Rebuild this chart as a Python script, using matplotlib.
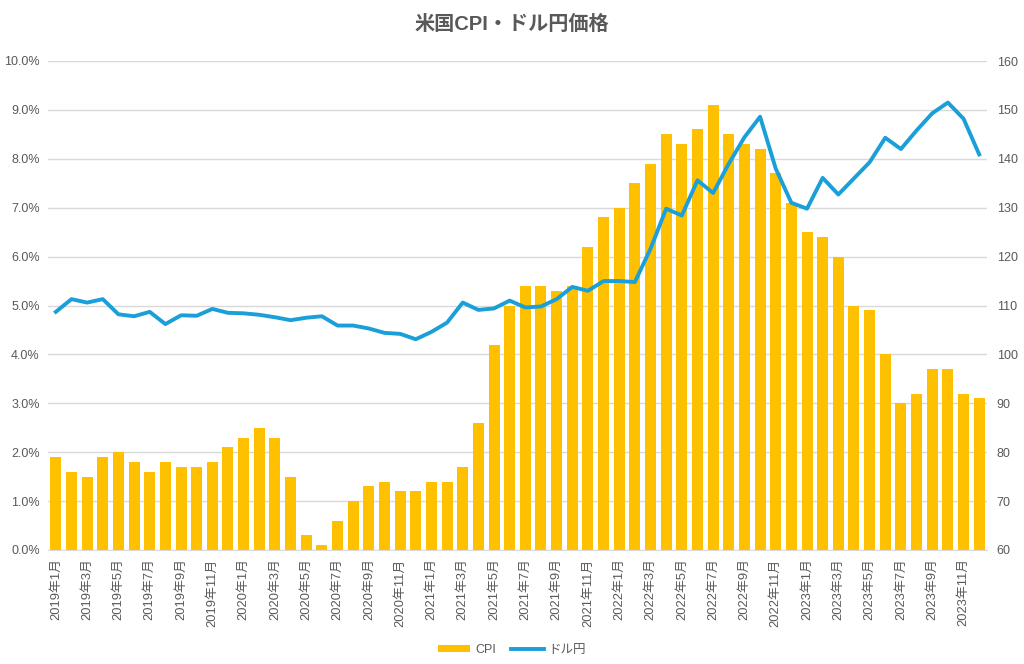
import matplotlib.pyplot as plt
import matplotlib.ticker as mticker
import numpy as np

plt.rcParams['font.family'] = ['Liberation Sans', 'Noto Sans CJK JP', 'DejaVu Sans']

months = [f"{y}年{m}月" for y in range(2019, 2024) for m in range(1, 13)]

cpi = [1.9, 1.6, 1.5, 1.9, 2.0, 1.8, 1.6, 1.8, 1.7, 1.7, 1.8, 2.1,
       2.3, 2.5, 2.3, 1.5, 0.3, 0.1, 0.6, 1.0, 1.3, 1.4, 1.2, 1.2,
       1.4, 1.4, 1.7, 2.6, 4.2, 5.0, 5.4, 5.4, 5.3, 5.4, 6.2, 6.8,
       7.0, 7.5, 7.9, 8.5, 8.3, 8.6, 9.1, 8.5, 8.3, 8.2, 7.7, 7.1,
       6.5, 6.4, 6.0, 5.0, 4.9, 4.0, 3.0, 3.2, 3.7, 3.7, 3.2, 3.1]

usdjpy = [108.7, 111.3, 110.6, 111.3, 108.2, 107.8, 108.7, 106.2, 108.0, 107.9, 109.3, 108.5,
          108.4, 108.1, 107.6, 107.0, 107.5, 107.8, 105.9, 105.9, 105.3, 104.4, 104.2, 103.1,
          104.6, 106.5, 110.6, 109.1, 109.4, 111.0, 109.6, 109.8, 111.3, 113.8, 113.0, 115.0,
          115.0, 114.8, 121.6, 129.8, 128.4, 135.6, 133.0, 139.0, 144.4, 148.6, 138.0, 131.0,
          129.8, 136.1, 132.7, 136.0, 139.3, 144.3, 142.0, 145.8, 149.3, 151.5, 148.2, 140.9]

text_c = "#595959"
x = np.arange(len(months))

fig = plt.figure(figsize=(10.24, 6.64), dpi=100)
ax1 = fig.add_axes([48/1024, 1-550/664, 939/1024, 489/664])
ax2 = ax1.twinx()

bars = ax1.bar(x, cpi, width=0.7, color="#FFC000", label="CPI", zorder=2)
line, = ax2.plot(x, usdjpy, color="#1A9FD9", lw=2.8, label="ドル円", zorder=3)

ax1.set_xlim(-0.5, len(months) - 0.5)
ax1.set_ylim(0, 10)
ax2.set_ylim(60, 160)
ax1.set_yticks(np.arange(0, 10.1, 1))
ax2.set_yticks(np.arange(60, 161, 10))
ax1.yaxis.set_major_formatter(mticker.FuncFormatter(lambda v, p: f"{v:.1f}%"))

ax1.grid(axis='y', color="#D9D9D9", lw=1, zorder=0)
ax1.set_axisbelow(True)

ax1.set_xticks(x[::2])
ax1.set_xticklabels(months[::2], rotation=90, fontsize=9.3, color=text_c)

for ax in (ax1, ax2):
    for s in ax.spines.values():
        s.set_visible(False)
    ax.tick_params(length=0, labelsize=9, labelcolor=text_c)
ax1.tick_params(axis='x', labelsize=9.3, pad=6)
ax1.spines['bottom'].set_visible(True)
ax1.spines['bottom'].set_color("#D9D9D9")
ax1.tick_params(axis='y', pad=6)
ax2.tick_params(axis='y', pad=7)

ax1.set_zorder(ax2.get_zorder() - 1)
ax2.patch.set_visible(False)

fig.text(0.5, 1-24/664, "米国CPI・ドル円価格", ha='center', va='center',
         fontsize=14.5, fontweight='bold', color=text_c)

fig.legend([bars, line], ["CPI", "ドル円"], loc='center', bbox_to_anchor=(0.5, 1-650/664),
           ncol=2, frameon=False, fontsize=9, labelcolor=text_c,
           handlelength=2.6, handleheight=0.5, columnspacing=1.2, handletextpad=0.4)

fig.savefig("out.png", dpi=100)
